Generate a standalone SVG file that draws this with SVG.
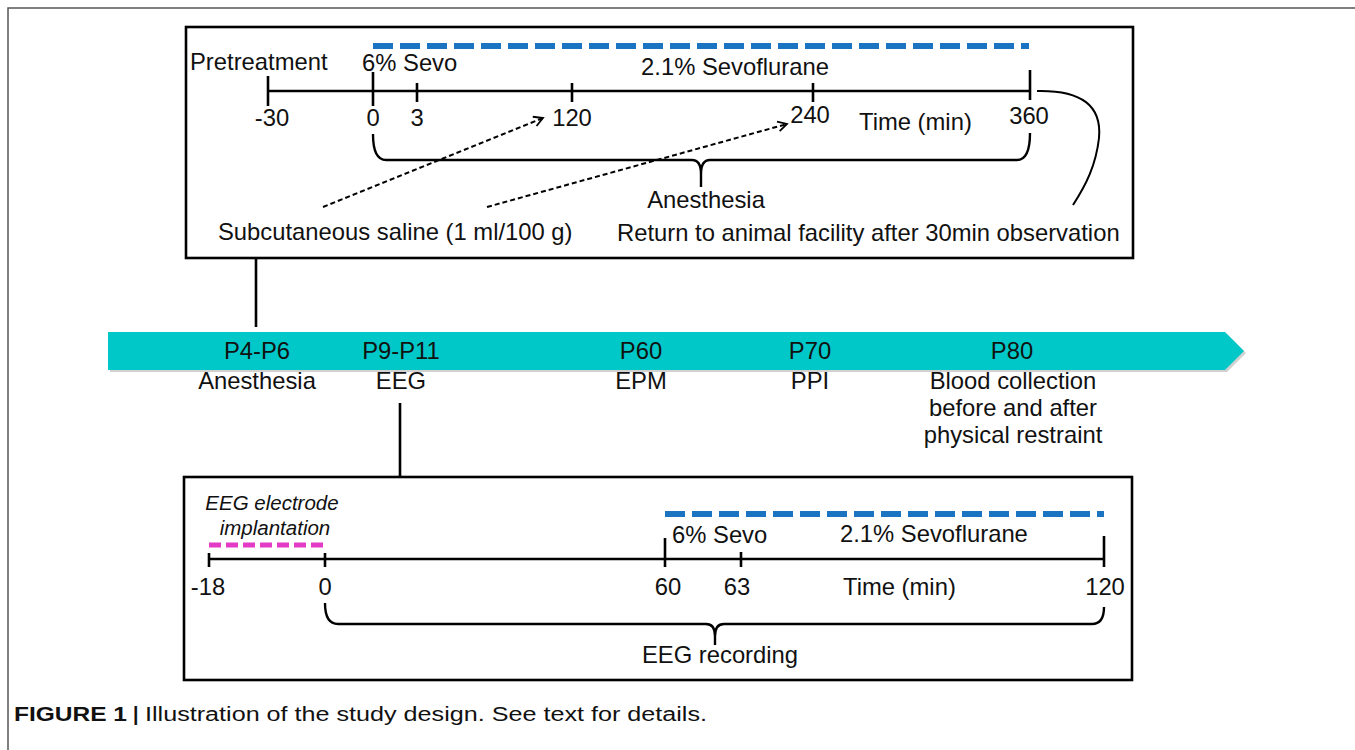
<svg xmlns="http://www.w3.org/2000/svg" width="1355" height="750" viewBox="0 0 1355 750">
<defs>
<style>
text{font-family:"Liberation Sans",Arial,sans-serif;fill:#111;}
.t{font-size:23.8px;}
.m{text-anchor:middle;}
.it{font-size:20.5px;font-style:italic;}
.box{fill:none;stroke:#000;stroke-width:2.6;}
.ax{fill:none;stroke:#000;stroke-width:2.6;}
.br{fill:none;stroke:#000;stroke-width:2.4;}
.blue{stroke:#1B74C2;stroke-width:6;stroke-dasharray:20 7;fill:none;}
.mag{stroke:#E43BC6;stroke-width:5;stroke-dasharray:12 5;fill:none;}
.da{stroke:#000;stroke-width:2;stroke-dasharray:5 3;fill:none;}
.cap{font-size:19.5px;}
</style>
<marker id="ah" markerWidth="12" markerHeight="12" refX="10" refY="6" orient="auto" markerUnits="userSpaceOnUse">
<path d="M1,1 L10,6 L1,11" fill="none" stroke="#000" stroke-width="1.8"/>
</marker>
</defs>
<rect width="1355" height="750" fill="#fff"/>
<path d="M8,750 L8,8 L1355,8" fill="none" stroke="#555" stroke-width="1.5"/>

<g id="connectors">
<line x1="256" y1="258" x2="256" y2="327" stroke="#000" stroke-width="2.6"/>
<line x1="400" y1="403" x2="400" y2="478" stroke="#000" stroke-width="2.6"/>
</g>

<g id="top-box">
<rect class="box" x="186" y="27" width="947" height="231"/>
<line class="blue" x1="373" y1="46" x2="1029" y2="46"/>
<text class="t" x="190" y="70">Pretreatment</text>
<text class="t" x="362" y="71">6% Sevo</text>
<text class="t m" x="735" y="75">2.1% Sevoflurane</text>
<line class="ax" x1="268" y1="91" x2="1030" y2="91"/>
<line class="ax" x1="268" y1="76" x2="268" y2="106"/>
<line class="ax" x1="373" y1="72" x2="373" y2="106"/>
<line class="ax" x1="417" y1="83" x2="417" y2="102"/>
<line class="ax" x1="572" y1="83" x2="572" y2="102"/>
<line class="ax" x1="813" y1="83" x2="813" y2="102"/>
<line class="ax" x1="1030" y1="70" x2="1030" y2="100"/>
<text class="t m" x="272" y="126">-30</text>
<text class="t m" x="373" y="126">0</text>
<text class="t m" x="417" y="126">3</text>
<text class="t m" x="572" y="126">120</text>
<text class="t m" x="810" y="123">240</text>
<text class="t" x="859" y="130">Time (min)</text>
<text class="t m" x="1029" y="124">360</text>
<path class="br" d="M373,134 Q373,160 386,160 L692,160 Q701,160 701,174 L701,187 M701,174 Q701,160 710,160 L1017,160 Q1030,160 1030,133"/>
<line class="da" x1="323" y1="207" x2="543" y2="118" marker-end="url(#ah)"/>
<line class="da" x1="487" y1="207" x2="787" y2="124" marker-end="url(#ah)"/>
<path d="M1037,91 C1082,90 1102,106 1099,138 C1096,165 1086,185 1073,205" fill="none" stroke="#000" stroke-width="2"/>
<text class="t m" x="706" y="208">Anesthesia</text>
<text class="t" x="218" y="240">Subcutaneous saline (1 ml/100 g)</text>
<text class="t" x="617" y="241">Return to animal facility after 30min observation</text>
</g>

<g id="band">
<polygon points="110,334 1227,334 1246,353 1227,372 110,372" fill="#000" opacity="0.18"/>
<polygon points="108,332 1225,332 1244,351 1225,370 108,370" fill="#00C8C8"/>
<text class="t m" x="257" y="359">P4-P6</text>
<text class="t m" x="401" y="359">P9-P11</text>
<text class="t m" x="641" y="359">P60</text>
<text class="t m" x="810" y="359">P70</text>
<text class="t m" x="1012" y="359">P80</text>
<text class="t m" x="257" y="389">Anesthesia</text>
<text class="t m" x="401" y="389">EEG</text>
<text class="t m" x="641" y="389">EPM</text>
<text class="t m" x="810" y="389">PPI</text>
<text class="t m" x="1013" y="389">Blood collection</text>
<text class="t m" x="1013" y="416">before and after</text>
<text class="t m" x="1013" y="443">physical restraint</text>
</g>

<g id="bottom-box">
<rect class="box" x="184" y="477" width="948" height="203"/>
<text class="it m" x="272" y="510">EEG electrode</text>
<text class="it m" x="275" y="535">implantation</text>
<line class="mag" x1="209" y1="545" x2="325" y2="545"/>
<line class="blue" x1="665" y1="514" x2="1104" y2="514"/>
<text class="t" x="672" y="543">6% Sevo</text>
<text class="t" x="840" y="542">2.1% Sevoflurane</text>
<line class="ax" x1="209" y1="559" x2="1104" y2="559"/>
<line class="ax" x1="209" y1="553" x2="209" y2="567"/>
<line class="ax" x1="325" y1="553" x2="325" y2="567"/>
<line class="ax" x1="665" y1="538" x2="665" y2="567"/>
<line class="ax" x1="741" y1="552" x2="741" y2="567"/>
<line class="ax" x1="1104" y1="536" x2="1104" y2="567"/>
<text class="t m" x="208" y="595">-18</text>
<text class="t m" x="325" y="595">0</text>
<text class="t m" x="668" y="595">60</text>
<text class="t m" x="737" y="595">63</text>
<text class="t" x="843" y="595">Time (min)</text>
<text class="t m" x="1105" y="595">120</text>
<path class="br" d="M325,603 Q325,624 338,624 L706,624 Q715,624 715,636 L715,645 M715,636 Q715,624 724,624 L1092,624 Q1104,624 1104,607"/>
<text class="t m" x="720" y="663">EEG recording</text>
</g>

<g id="caption">
<text class="cap" x="14" y="721" font-weight="bold" textLength="113" lengthAdjust="spacingAndGlyphs">FIGURE 1</text>
<text class="cap" x="133" y="721" font-weight="bold">|</text>
<text class="cap" x="145" y="721" textLength="562" lengthAdjust="spacingAndGlyphs">Illustration of the study design. See text for details.</text>
</g>
</svg>
